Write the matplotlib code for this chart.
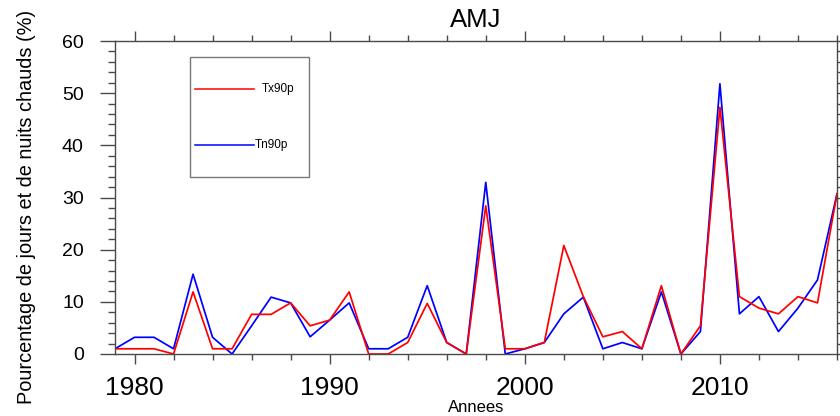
import matplotlib
matplotlib.use("Agg")
import matplotlib.pyplot as plt
from matplotlib.lines import Line2D
from matplotlib.patches import Rectangle
from matplotlib.ticker import MultipleLocator

plt.rcParams['font.family'] = ['Liberation Sans', 'DejaVu Sans']

years = list(range(1979, 2017))
tx90p = [1.0, 1.0, 1.0, 0.0, 11.9, 1.0, 1.0, 7.6, 7.6, 9.8,
         5.4, 6.5, 11.9, 0.0, 0.0, 2.2, 9.7, 2.2, 0.0, 28.4,
         1.0, 1.0, 2.2, 20.8, 11.0, 3.3, 4.3, 1.0, 13.1, 0.0,
         5.4, 47.3, 11.0, 8.8, 7.7, 11.0, 9.8, 30.7]
tn90p = [1.0, 3.2, 3.2, 1.0, 15.3, 3.2, 0.0, 5.4, 10.9, 9.8,
         3.3, 6.5, 9.8, 1.0, 1.0, 3.2, 13.1, 2.2, 0.0, 32.9,
         0.0, 1.0, 2.2, 7.7, 10.9, 1.0, 2.2, 1.0, 11.9, 0.0,
         4.3, 51.8, 7.7, 11.0, 4.3, 8.8, 14.2, 30.7]
series_labels = ["Tx90p", "Tn90p"]
series_colors = ["#ff0000", "#0000ff"]
title = "AMJ"
xlabel = "Annees"
ylabel = "Pourcentage de jours et de nuits chauds (%)"

W, H = 840, 416
fig = plt.figure(figsize=(W / 100, H / 100), dpi=100)
ax = fig.add_axes([115 / W, 1 - 354 / H, 722 / W, 313 / H])

# draw blue first so red lies on top
ax.plot(years, tn90p, color=series_colors[1], lw=1.25)
ax.plot(years, tx90p, color=series_colors[0], lw=1.25)

ax.set_xlim(1979, 2016)
ax.set_ylim(0, 60)
ax.xaxis.set_major_locator(MultipleLocator(10))
ax.xaxis.set_minor_locator(MultipleLocator(2))
ax.yaxis.set_major_locator(MultipleLocator(10))
ax.yaxis.set_minor_locator(MultipleLocator(2))

spine_col = "#4a4a4a"
for s in ax.spines.values():
    s.set_color(spine_col)
    s.set_linewidth(1.0)

ax.tick_params(axis='x', which='both', direction='out', top=True, bottom=True,
               colors=spine_col, labelcolor='black')
ax.tick_params(axis='x', which='major', length=7.5, width=1.0, pad=8.5, labelsize=19)
ax.tick_params(axis='x', which='minor', length=4, width=1.0)
ax.tick_params(axis='y', which='both', direction='out', left=True, right=True,
               colors=spine_col, labelcolor='black')
ax.tick_params(axis='y', which='major', length=10.5, width=1.0, pad=12, labelsize=14)
ax.tick_params(axis='y', which='minor', length=5, width=1.0)

ax.set_title(title, fontsize=18.5, y=1 + 14 / 313, pad=0)
ax.set_xlabel(xlabel, fontsize=12)
ax.xaxis.set_label_coords(0.5, -0.147)
ax.set_ylabel(ylabel, fontsize=14.4)
ax.yaxis.set_label_coords(-0.109, 0.47)

# legend box (NCL-style)
box = Rectangle((0.1039, 0.5655), 0.2687 - 0.1039, 0.9489 - 0.5655,
                transform=ax.transAxes, facecolor='white', edgecolor='#777777',
                lw=1.0, zorder=5)
ax.add_patch(box)
key_y = [0.8466, 0.6677]
text_x = [0.2036, 0.1939]
for lab, col, ky, tx in zip(series_labels, series_colors, key_y, text_x):
    ax.add_line(Line2D([0.1108, 0.1925], [ky, ky], transform=ax.transAxes,
                       color=col, lw=1.1, zorder=6))
    ax.text(tx, ky, lab, transform=ax.transAxes, fontsize=8.5, ha='left',
            va='center', zorder=6)

fig.savefig("out.png", dpi=100)
